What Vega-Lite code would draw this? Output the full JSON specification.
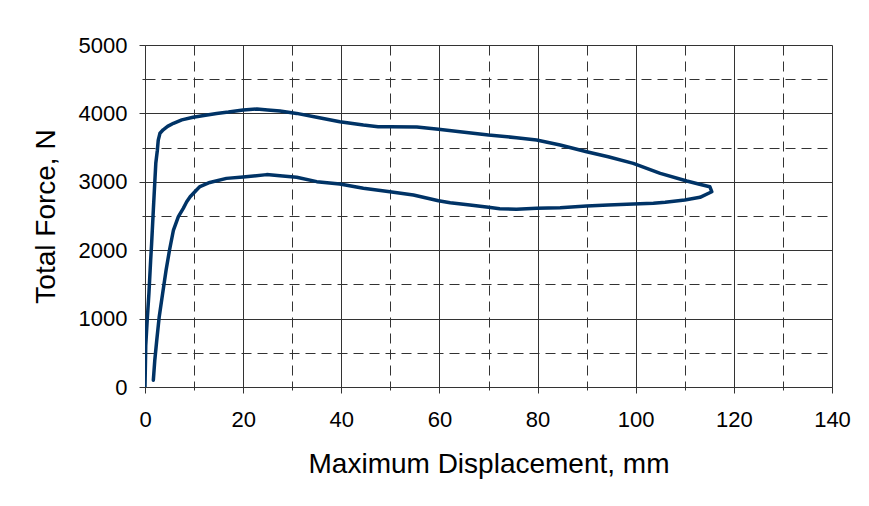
{
  "$schema": "https://vega.github.io/schema/vega-lite/v6.json",
  "width": 687,
  "height": 342,
  "autosize": "none",
  "padding": {"left": 145, "top": 45, "right": 37, "bottom": 119},
  "background": "white",
  "config": {"view": {"stroke": null}},
  "data": {"values": [
    {"i": 1, "x": 0, "f": 0},
    {"i": 2, "x": 0.1, "f": 400},
    {"i": 3, "x": 0.15, "f": 600},
    {"i": 4, "x": 0.45, "f": 980},
    {"i": 5, "x": 0.8, "f": 1370},
    {"i": 6, "x": 1.15, "f": 1850},
    {"i": 7, "x": 1.35, "f": 2100},
    {"i": 8, "x": 1.7, "f": 2590},
    {"i": 9, "x": 2.0, "f": 3000},
    {"i": 10, "x": 2.2, "f": 3270},
    {"i": 11, "x": 2.5, "f": 3450},
    {"i": 12, "x": 2.7, "f": 3610},
    {"i": 13, "x": 3.05, "f": 3710},
    {"i": 14, "x": 3.7, "f": 3760},
    {"i": 15, "x": 4.6, "f": 3810},
    {"i": 16, "x": 5.8, "f": 3855},
    {"i": 17, "x": 7.5, "f": 3905},
    {"i": 18, "x": 9.8, "f": 3943},
    {"i": 19, "x": 12, "f": 3970},
    {"i": 20, "x": 14.6, "f": 4000},
    {"i": 21, "x": 17, "f": 4020},
    {"i": 22, "x": 20, "f": 4050},
    {"i": 23, "x": 22.8, "f": 4064},
    {"i": 24, "x": 25, "f": 4050},
    {"i": 25, "x": 27.5, "f": 4035},
    {"i": 26, "x": 30.9, "f": 4000},
    {"i": 27, "x": 35, "f": 3943},
    {"i": 28, "x": 39.7, "f": 3879},
    {"i": 29, "x": 44.5, "f": 3830},
    {"i": 30, "x": 47.5, "f": 3806},
    {"i": 31, "x": 49.9, "f": 3806},
    {"i": 32, "x": 55.4, "f": 3800},
    {"i": 33, "x": 59.8, "f": 3767},
    {"i": 34, "x": 64.2, "f": 3733},
    {"i": 35, "x": 70, "f": 3684},
    {"i": 36, "x": 75.7, "f": 3645},
    {"i": 37, "x": 79.8, "f": 3611},
    {"i": 38, "x": 84.6, "f": 3538},
    {"i": 39, "x": 90, "f": 3440},
    {"i": 40, "x": 94.4, "f": 3367},
    {"i": 41, "x": 99.5, "f": 3270},
    {"i": 42, "x": 105, "f": 3124},
    {"i": 43, "x": 110.4, "f": 3012},
    {"i": 44, "x": 113, "f": 2965},
    {"i": 45, "x": 115.1, "f": 2928},
    {"i": 46, "x": 115.5, "f": 2855},
    {"i": 47, "x": 113.1, "f": 2773},
    {"i": 48, "x": 110, "f": 2734},
    {"i": 49, "x": 106, "f": 2700},
    {"i": 50, "x": 103.6, "f": 2685},
    {"i": 51, "x": 99.5, "f": 2675},
    {"i": 52, "x": 94.4, "f": 2661},
    {"i": 53, "x": 90, "f": 2646},
    {"i": 54, "x": 84.6, "f": 2621},
    {"i": 55, "x": 79.8, "f": 2612},
    {"i": 56, "x": 75.7, "f": 2598},
    {"i": 57, "x": 72.3, "f": 2607},
    {"i": 58, "x": 70, "f": 2627},
    {"i": 59, "x": 66.2, "f": 2661},
    {"i": 60, "x": 62.2, "f": 2694},
    {"i": 61, "x": 59.8, "f": 2724},
    {"i": 62, "x": 54.7, "f": 2807},
    {"i": 63, "x": 49.9, "f": 2855},
    {"i": 64, "x": 44.5, "f": 2905},
    {"i": 65, "x": 39.7, "f": 2968},
    {"i": 66, "x": 35, "f": 3002},
    {"i": 67, "x": 30.9, "f": 3066},
    {"i": 68, "x": 27.5, "f": 3090},
    {"i": 69, "x": 24.8, "f": 3105},
    {"i": 70, "x": 20, "f": 3070},
    {"i": 71, "x": 16.6, "f": 3050},
    {"i": 72, "x": 13.2, "f": 2990},
    {"i": 73, "x": 11.2, "f": 2930},
    {"i": 74, "x": 10.5, "f": 2880},
    {"i": 75, "x": 9.2, "f": 2782},
    {"i": 76, "x": 8.5, "f": 2709},
    {"i": 77, "x": 7.8, "f": 2612},
    {"i": 78, "x": 6.8, "f": 2490},
    {"i": 79, "x": 5.8, "f": 2295},
    {"i": 80, "x": 5.0, "f": 2003},
    {"i": 81, "x": 4.3, "f": 1711},
    {"i": 82, "x": 3.6, "f": 1370},
    {"i": 83, "x": 2.9, "f": 1028},
    {"i": 84, "x": 2.4, "f": 687},
    {"i": 85, "x": 2.0, "f": 395},
    {"i": 86, "x": 1.8, "f": 200},
    {"i": 87, "x": 1.7, "f": 100}
  ]},
  "mark": {"type": "line", "color": "#003366", "strokeWidth": 3.5, "strokeJoin": "round", "strokeCap": "round", "clip": true},
  "encoding": {
    "order": {"field": "i", "type": "quantitative"},
    "x": {
      "field": "x", "type": "quantitative",
      "scale": {"domain": [0, 140], "nice": false, "zero": false},
      "axis": {
        "values": [0, 10, 20, 30, 40, 50, 60, 70, 80, 90, 100, 110, 120, 130, 140],
        "labelExpr": "datum.value % 20 === 0 ? datum.label : ''",
        "grid": true,
        "gridColor": "#333333",
        "gridOpacity": 1,
        "gridWidth": 1,
        "gridDash": {"condition": {"test": "datum.value % 20 === 0", "value": []}, "value": [10, 6]},
        "domainColor": "#333333",
        "tickColor": "#333333",
        "tickSize": {"condition": {"test": "datum.value % 20 === 0", "value": 6}, "value": 3},
        "labelFont": "Liberation Sans",
        "labelFontSize": 22,
        "labelColor": "black",
        "labelPadding": 16,
        "labelFlush": false,
        "labelOverlap": false,
        "title": "Maximum Displacement, mm",
        "titleFont": "Liberation Sans",
        "titleFontSize": 28,
        "titleFontWeight": "normal",
        "titleColor": "black",
        "titlePadding": 20
      }
    },
    "y": {
      "field": "f", "type": "quantitative",
      "scale": {"domain": [0, 5000], "nice": false, "zero": false},
      "axis": {
        "values": [0, 500, 1000, 1500, 2000, 2500, 3000, 3500, 4000, 4500, 5000],
        "labelExpr": "datum.value % 1000 === 0 ? datum.label : ''",
        "format": "d",
        "grid": true,
        "gridColor": "#333333",
        "gridOpacity": 1,
        "gridWidth": 1,
        "gridDash": {"condition": {"test": "datum.value % 1000 === 0", "value": []}, "value": [10, 6]},
        "domainColor": "#333333",
        "tickColor": "#333333",
        "tickSize": {"condition": {"test": "datum.value % 1000 === 0", "value": 6}, "value": 3},
        "labelFont": "Liberation Sans",
        "labelFontSize": 22,
        "labelColor": "black",
        "labelPadding": 12,
        "labelFlush": false,
        "labelOverlap": false,
        "title": "Total Force, N",
        "titleFont": "Liberation Sans",
        "titleFontSize": 28,
        "titleFontWeight": "normal",
        "titleColor": "black",
        "titlePadding": 18
      }
    }
  }
}
